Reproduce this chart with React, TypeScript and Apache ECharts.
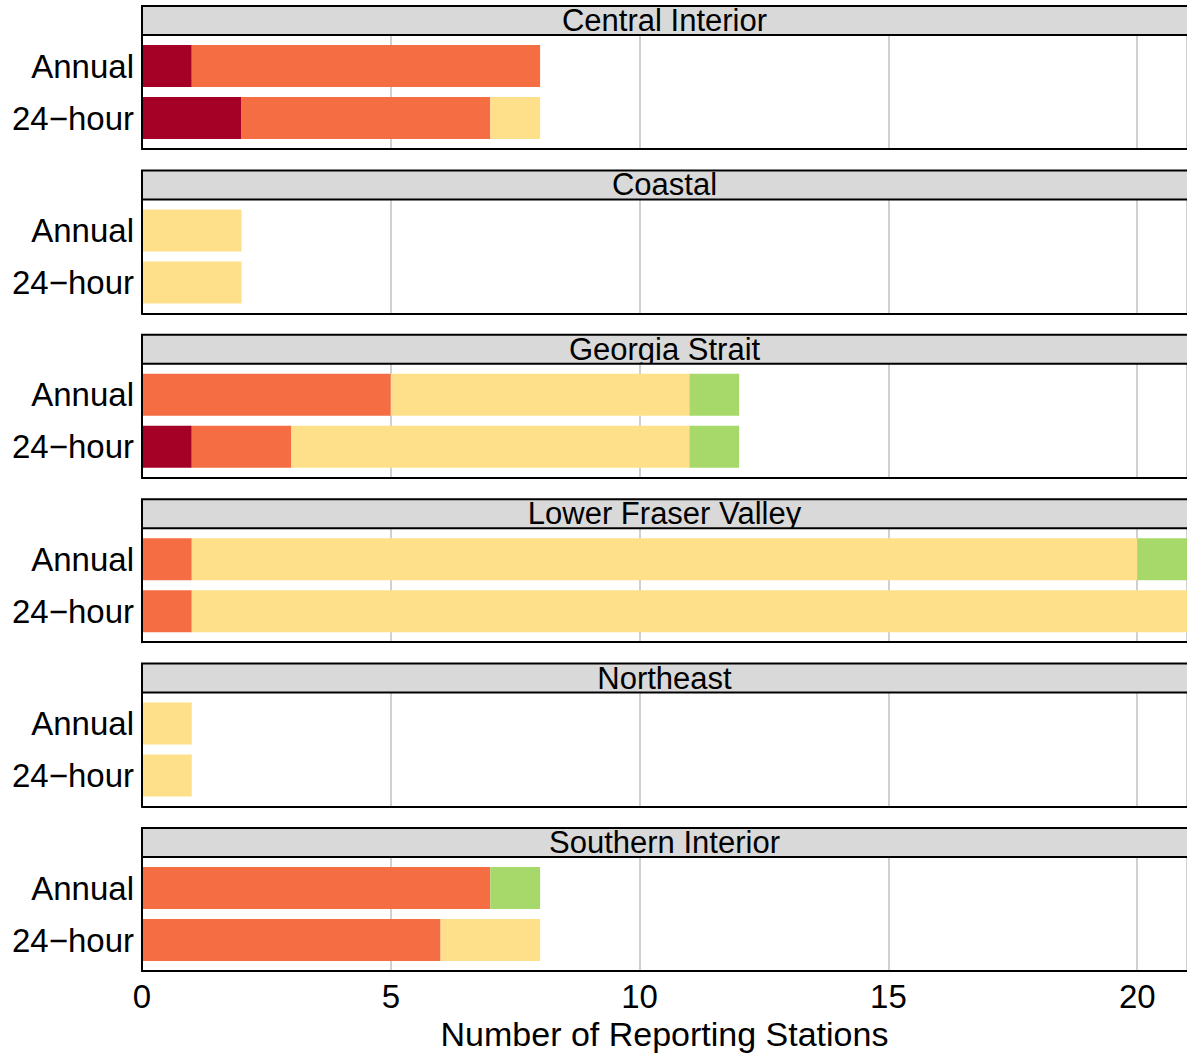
import React, { useEffect, useRef } from "react";
import * as echarts from "echarts";

// ---- data ----
const regions = [
  "Central Interior",
  "Coastal",
  "Georgia Strait",
  "Lower Fraser Valley",
  "Northeast",
  "Southern Interior",
];
const metrics = ["Annual", "24−hour"];
const levels = ["Red", "Orange", "Yellow", "Green"];
const levelColors = ["#A50026", "#F46D43", "#FEE08B", "#A6D96A"];
// per region: [Annual, 24-hour]
const redCounts = [[1, 2], [0, 0], [0, 1], [0, 0], [0, 0], [0, 0]];
const orangeCounts = [[7, 5], [0, 0], [5, 2], [1, 1], [0, 0], [7, 6]];
const yellowCounts = [[0, 1], [2, 2], [6, 8], [19, 20], [1, 1], [0, 2]];
const greenCounts = [[0, 0], [0, 0], [1, 1], [1, 0], [0, 0], [1, 0]];
const xMin = 0;
const xMax = 21;
const xInterval = 5;
const xTitle = "Number of Reporting Stations";

// ---- layout ----
const FONT = "Liberation Sans";
const LEFT = 142;
const WIDTH = 1047;
const PANEL_TOP0 = 35;
const PANEL_STEP = 164.4;
const PANEL_H = 114;
const STRIP_H = 29;
const BAR_INSET = 5;

export default function App() {
  const ref = useRef<HTMLDivElement>(null);

  useEffect(() => {
    if (!ref.current) return;
    const chart = echarts.init(ref.current, null, { renderer: "svg" });
    const counts = [redCounts, orangeCounts, yellowCounts, greenCounts];

    const grid: any[] = [];
    const xAxis: any[] = [];
    const yAxis: any[] = [];
    const series: any[] = [];
    const graphic: any[] = [];
    const n = regions.length;

    regions.forEach((region, i) => {
      const top = PANEL_TOP0 + i * PANEL_STEP;
      const last = i === n - 1;
      // frame grid
      grid.push({
        left: LEFT,
        top,
        width: WIDTH,
        height: PANEL_H,
        show: true,
        backgroundColor: "#ffffff",
        borderWidth: 0,
        z: 2,
      });
      // bar grid
      grid.push({
        left: LEFT,
        top: top + BAR_INSET,
        width: WIDTH,
        height: PANEL_H - 2 * BAR_INSET,
        show: false,
      });
      xAxis.push({
        type: "value",
        gridIndex: 2 * i,
        min: xMin,
        max: xMax,
        interval: xInterval,
        z: 3,
        axisLine: { show: true, lineStyle: { color: "#000", width: 2 } },
        axisTick: { show: false },
        splitLine: { show: true, lineStyle: { color: "#D0D0D0", width: 2 } },
        axisLabel: {
          show: last,
          fontSize: 33,
          color: "#000",
          fontFamily: FONT,
          margin: 9,
          showMaxLabel: false,
        },
        name: last ? xTitle : "",
        nameLocation: "middle",
        nameGap: 46,
        nameTextStyle: { fontSize: 34, color: "#000", fontFamily: FONT },
      });
      xAxis.push({
        type: "value",
        gridIndex: 2 * i + 1,
        min: xMin,
        max: xMax,
        show: false,
      });
      yAxis.push({
        type: "value",
        gridIndex: 2 * i,
        min: 0,
        max: 1,
        z: 6,
        axisLine: { show: true, lineStyle: { color: "#000", width: 2 } },
        axisTick: { show: false },
        axisLabel: { show: false },
        splitLine: { show: false },
      });
      yAxis.push({
        type: "category",
        gridIndex: 2 * i + 1,
        data: metrics,
        inverse: true,
        z: 4,
        axisLine: { show: false },
        axisTick: { show: false },
        splitLine: { show: false },
        axisLabel: { fontSize: 33, color: "#000", fontFamily: FONT, margin: 8 },
      });
      levels.forEach((lv, k) => {
        series.push({
          type: "bar",
          name: lv,
          xAxisIndex: 2 * i + 1,
          yAxisIndex: 2 * i + 1,
          stack: "panel" + i,
          barWidth: 42,
          data: counts[k][i],
          itemStyle: { color: levelColors[k] },
          z: 4,
          silent: true,
        });
      });
      // strip
      graphic.push({
        type: "rect",
        z: 0,
        silent: true,
        shape: { x: LEFT, y: top - STRIP_H, width: 1070, height: STRIP_H },
        style: { fill: "#D9D9D9" },
      });
      graphic.push({
        type: "text",
        z: 1,
        silent: true,
        x: LEFT + (1187 - LEFT) / 2,
        y: top - 14.5,
        style: {
          text: region,
          fontSize: 31,
          fontFamily: FONT,
          fill: "#000",
          align: "center",
          verticalAlign: "middle",
        },
      });
      graphic.push({
        type: "rect",
        z: 10,
        silent: true,
        shape: { x: LEFT, y: top - STRIP_H, width: 1070, height: STRIP_H },
        style: { fill: "none", stroke: "#000", lineWidth: 2 },
      });
    });

    chart.setOption({
      animation: false,
      backgroundColor: "#ffffff",
      textStyle: { fontFamily: FONT },
      grid,
      xAxis,
      yAxis,
      series,
      graphic,
    });
    return () => chart.dispose();
  }, []);

  return (
    <div
      ref={ref}
      style={{ position: "absolute", left: 0, top: 0, width: 1187, height: 1054 }}
    />
  );
}
